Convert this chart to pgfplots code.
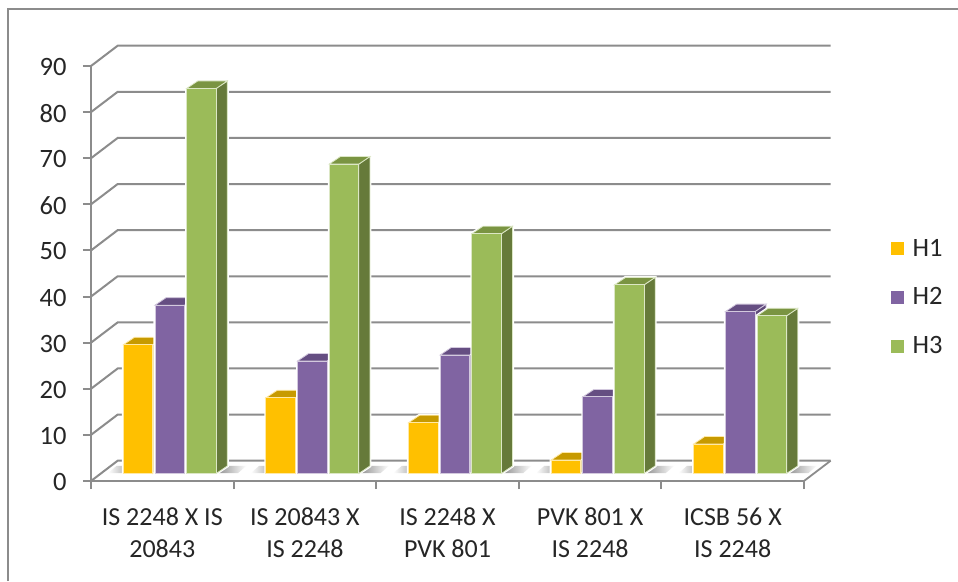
\documentclass[border=0pt]{standalone}
\usepackage{fontspec}
\setmainfont{Carlito}
\usepackage{pgfplots}
\pgfplotsset{compat=1.18}

\definecolor{hone}{HTML}{FFC000}
\definecolor{honeside}{HTML}{BF9000}
\definecolor{honetop}{HTML}{C79A00}
\definecolor{htwo}{HTML}{8064A2}
\definecolor{htwoside}{HTML}{5F4A7A}
\definecolor{htwotop}{HTML}{654E82}
\definecolor{hthree}{HTML}{9BBB59}
\definecolor{hthreeside}{HTML}{667A3A}
\definecolor{hthreetop}{HTML}{7A9442}
\definecolor{wallgray}{HTML}{8C8C8C}
\definecolor{labelgray}{HTML}{262626}

% bar width, bar depth in x and lift of the bar plane above the front edge
\newcommand{\bw}{0.2074}
\newcommand{\bdx}{0.078}
\newcommand{\lift}{1.63}

% one cuboid: left edge, value, colour stem
\newcommand{\cuboid}[3]{%
  \addplot[forget plot,draw=white,line width=3pt,fill=white] coordinates
    {({#1},\lift) ({#1+\bw},\lift) ({#1+\bw+\bdx},{\lift+\lift}) ({#1+\bw+\bdx},{#2+\lift+\lift}) ({#1+\bdx},{#2+\lift+\lift}) ({#1},{#2+\lift})} -- cycle;
  \addplot[forget plot,draw=#3!35!white,line width=0.8pt,fill=#3side] coordinates
    {({#1+\bw},\lift) ({#1+\bw+\bdx},{\lift+\lift}) ({#1+\bw+\bdx},{#2+\lift+\lift}) ({#1+\bw},{#2+\lift})} -- cycle;
  \addplot[forget plot,draw=#3!35!white,line width=0.8pt,fill=#3top] coordinates
    {({#1},{#2+\lift}) ({#1+\bw},{#2+\lift}) ({#1+\bw+\bdx},{#2+\lift+\lift}) ({#1+\bdx},{#2+\lift+\lift})} -- cycle;
  \addplot[forget plot,draw=#3!35!white,line width=0.9pt,fill=#3] coordinates
    {({#1},\lift) ({#1+\bw},\lift) ({#1+\bw},{#2+\lift}) ({#1},{#2+\lift})} -- cycle;
}
% one group of three cuboids at category index #1
\newcommand{\group}[4]{%
  \cuboid{#1+0.2264}{#2}{hone}
  \cuboid{#1+0.4486}{#3}{htwo}
  \cuboid{#1+0.6708}{#4}{hthree}
}
% soft floor shadows either side of a group
\newcommand{\floorshade}[1]{%
  \addplot[forget plot,draw=none,shade,shading=axis,left color=black!45,right color=white] coordinates
    {({#1+0.878},1.7) ({#1+1.03},1.7) ({#1+1.09},3.3) ({#1+0.94},3.3)} -- cycle;
  \addplot[forget plot,draw=none,shade,shading=axis,left color=white,right color=black!25] coordinates
    {({#1+0.12},1.7) ({#1+0.2264},1.7) ({#1+0.2264},3.3) ({#1+0.18},3.3)} -- cycle;
}

\begin{document}
\begin{tikzpicture}[x=1pt,y=1pt]
  % page extent and outer chart frame
  \useasboundingbox (-91,-100) rectangle (867,481);
  \fill[white] (-91,-100) rectangle (867,481);
  \draw[wallgray,line width=2.2pt] (-83,-100) -- (-83,472) -- (867,472);

  \begin{axis}[
    at={(0pt,0pt)},anchor=south west,
    scale only axis,width=713pt,height=415pt,
    xmin=0,xmax=5,ymin=0,ymax=90,
    clip=false,
    axis lines*=left,
    axis line style={wallgray,line width=2pt},
    tick style={wallgray,line width=2pt},
    major tick length=8pt,
    tick align=outside,
    xtick={0,1,2,3,4,5},
    x tick label as interval=true,
    xticklabels={{IS 2248 X IS\\20843},{IS 20843 X\\IS 2248},{IS 2248 X\\PVK 801},{PVK 801 X\\IS 2248},{ICSB 56 X\\IS 2248}},
    xticklabel style={align=flush center,text width=135pt,font=\fontsize{26}{32}\selectfont,text=labelgray,yshift=-15pt},
    ytick={0,10,...,90},
    yticklabel style={font=\fontsize{26.5}{30}\selectfont,text=labelgray,xshift=-13pt,yshift=-1pt,/pgf/number format/assume math mode=true},
    legend cell align=left,
    legend style={draw=none,fill=none,at={(1.118,0.443)},anchor=west,
      font=\fontsize{26.5}{30}\selectfont,text=labelgray,row sep=26pt,
      /tikz/every odd column/.append style={column sep=7pt}},
  ]
    \addlegendimage{legend image code/.code={\fill[hone] (0pt,-6pt) rectangle (12pt,6pt);}}
    \addlegendentry{H1}
    \addlegendimage{legend image code/.code={\fill[htwo] (0pt,-6pt) rectangle (12pt,6pt);}}
    \addlegendentry{H2}
    \addlegendimage{legend image code/.code={\fill[hthree] (0pt,-6pt) rectangle (12pt,6pt);}}
    \addlegendentry{H3}

    % back wall: gridlines with their diagonal returns to the front axis
    \pgfplotsinvokeforeach{0,10,...,90}{
      \addplot[forget plot,wallgray,line width=2pt] coordinates
        {(0,#1) (0.187,{#1+4.4}) (5.187,{#1+4.4})};
    }
    % floor edge on the right
    \addplot[forget plot,wallgray,line width=1.8pt] coordinates {(5,0) (5.187,4.4)};

    \floorshade{0}\floorshade{1}\floorshade{2}\floorshade{3}\floorshade{4}

    \group{0}{27.9}{36.5}{83.5}
    \group{1}{16.4}{24.4}{67.1}
    \group{2}{11.0}{25.7}{52.0}
    \group{3}{2.9}{16.6}{40.9}
    \group{4}{6.4}{35.1}{34.2}
  \end{axis}
\end{tikzpicture}
\end{document}
